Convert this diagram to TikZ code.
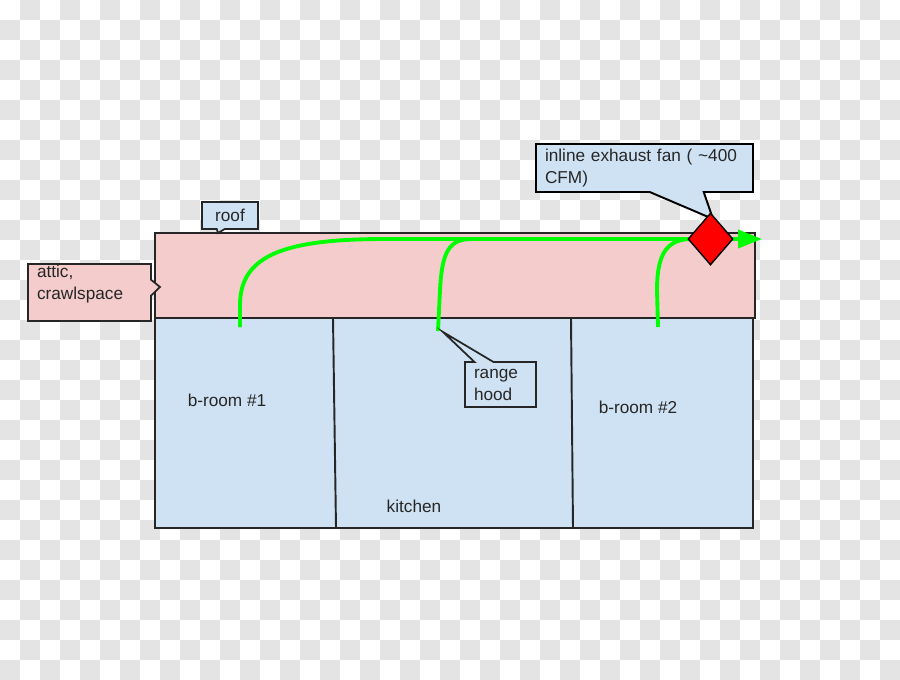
\documentclass[tikz,border=0pt]{standalone}
\usepackage{fontspec}
\setmainfont{Liberation Sans}
\usepackage{xcolor}
\usetikzlibrary{shapes,shapes.callouts,arrows.meta,positioning}
\definecolor{atticpink}{HTML}{F4CCCC}
\definecolor{roomblue}{HTML}{CFE2F3}
\definecolor{flowgreen}{HTML}{00FF00}
\definecolor{checkgray}{HTML}{E4E4E4}

\begin{document}
\begin{tikzpicture}[
    x=0.02cm, y=-0.02cm,
    wall/.style={draw=black!85, line width=1.1pt},
    tag/.style={rectangle callout, draw=black!85, line width=1pt, inner xsep=0.18cm, inner ysep=0pt, align=left, text=black!85, font=\fontsize{9.8}{12.5}\selectfont},
    room/.style={font=\fontsize{9.8}{12}\selectfont, text=black!85},
    flow/.style={draw=flowgreen, line width=2.2pt},
    fan/.style={diamond, draw=black, fill=red, line width=0.8pt, inner sep=0pt, minimum width=0.9cm, minimum height=1.04cm}
]
\useasboundingbox (0,0) rectangle (900,680);

% Background
\foreach \i in {0,40,...,880} {
  \foreach \j in {0,40,...,640} {
    \fill[checkgray] (\i+20,\j) rectangle ++(20,20);
    \fill[checkgray] (\i,\j+20) rectangle ++(20,20);
  }
}

% House
\fill[atticpink] (155,233) rectangle (755,318);
\fill[roomblue] (155,318) rectangle (753,528);
\draw[wall] (155,233) rectangle (755,318);
\draw[wall] (155,318) rectangle (753,528);
\draw[wall] (333,318) -- (336,528);
\draw[wall] (571,318) -- (573,528);

% Rooms
\node[room] (bath1) at (227,400) {b-room \#1};
\node[room] (kitchen) at (414,506) {kitchen};
\node[room] (bath2) at (638,407) {b-room \#2};

% Air flow
\draw[flow, -{Triangle[length=0.48cm, width=0.36cm]}] (240,327) -- (240,305) .. controls (240,255) and (285,239) .. (385,239) -- (762,239);
\draw[flow] (438,331) -- (440,290) .. controls (442,250) and (450,239) .. (472,239);
\draw[flow] (658,327) -- (657,290) .. controls (657,252) and (668,239) .. (692,239);

% Callouts
\node[tag, fill=roomblue, align=center, text width=0.76cm, minimum height=0.54cm,
  callout absolute pointer={(218,233)}, callout pointer width=0.16cm] (rooftag) at (230,215.5) {roof};
\node[tag, fill=atticpink, text width=2.1cm, minimum height=1.14cm,
  callout absolute pointer={(160,287)}, callout pointer width=0.32cm] (attictag) at (89.5,292.5) {attic,\\crawlspace\rule[-0.42cm]{0pt}{0pt}};
\node[tag, fill=roomblue, text width=1.06cm, minimum height=0.9cm,
  callout absolute pointer={(443,332)}, callout pointer width=0.38cm] (hoodtag) at (500.5,384.5) {range\\hood};
\node[tag, fill=roomblue, draw=black, line width=1.1pt, text width=3.98cm, minimum height=0.96cm,
  callout absolute pointer={(713,219)}, callout pointer width=1.08cm] (fantag) at (644.5,168) {inline exhaust fan ( \textasciitilde 400\\CFM)};

% Fan
\node[fan] (fan) at (710.5,239) {};
\end{tikzpicture}
\end{document}
